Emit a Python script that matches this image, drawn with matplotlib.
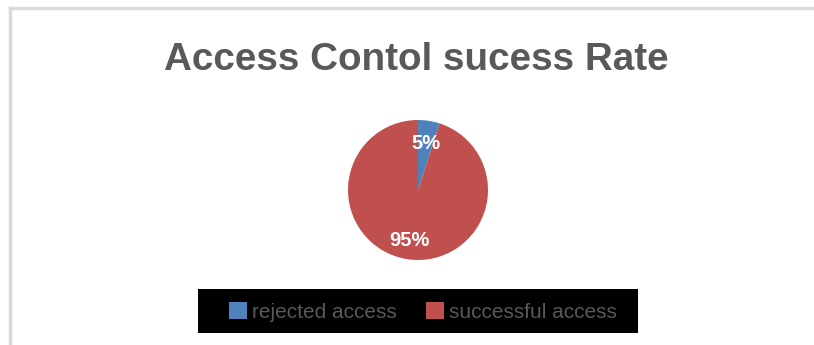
import matplotlib.pyplot as plt
from matplotlib.patches import Rectangle

labels = ["rejected access", "successful access"]
shares = [5, 95]
colors = ["#4F81BD", "#C0504D"]

plt.rcParams["font.family"] = ["Liberation Sans", "DejaVu Sans"]

fig = plt.figure(figsize=(8.14, 3.45), dpi=100)
fig.patch.set_facecolor("white")

# chart frame (open at right/bottom as in the crop)
fig.add_artist(plt.Line2D([10 / 814, 10 / 814], [0, 1 - 8 / 345],
                          color="#D9D9D9", lw=2.5, transform=fig.transFigure))
fig.add_artist(plt.Line2D([10 / 814, 1], [1 - 8 / 345, 1 - 8 / 345],
                          color="#D9D9D9", lw=2.5, transform=fig.transFigure))

fig.text(416 / 814, 1 - 60 / 345, "Access Contol sucess Rate", ha="center",
         va="center", fontsize=27.8, fontweight="bold", color="#595959")

# pie: centre (418,190), radius 70 px
r = 70
ax = fig.add_axes([(418 - r) / 814, 1 - (190 + r) / 345, 2 * r / 814, 2 * r / 345])
wedges, texts, autotexts = ax.pie(
    shares, colors=colors, startangle=90, counterclock=False,
    autopct="%d%%", pctdistance=0.78,
    wedgeprops=dict(linewidth=0),
    textprops=dict(color="white", fontsize=14.5, fontweight="bold"),
)
autotexts[0].set_position((0.11, 0.67))
autotexts[1].set_position((-0.12, -0.72))
ax.set_xlim(-1, 1)
ax.set_ylim(-1, 1)
ax.set_aspect("equal")

# legend on black band
fig.add_artist(Rectangle((198 / 814, 1 - 333 / 345), 440 / 814, 44 / 345,
                         facecolor="black", edgecolor="none",
                         transform=fig.transFigure))
leg = fig.legend(wedges, labels, loc="center", ncol=2,
                 bbox_to_anchor=(423 / 814, 1 - 312 / 345), frameon=False,
                 fontsize=15, handlelength=0.85, handleheight=0.85,
                 handletextpad=0.25, columnspacing=1.4)
for t in leg.get_texts():
    t.set_color("#595959")

fig.savefig("out.png", dpi=100)
